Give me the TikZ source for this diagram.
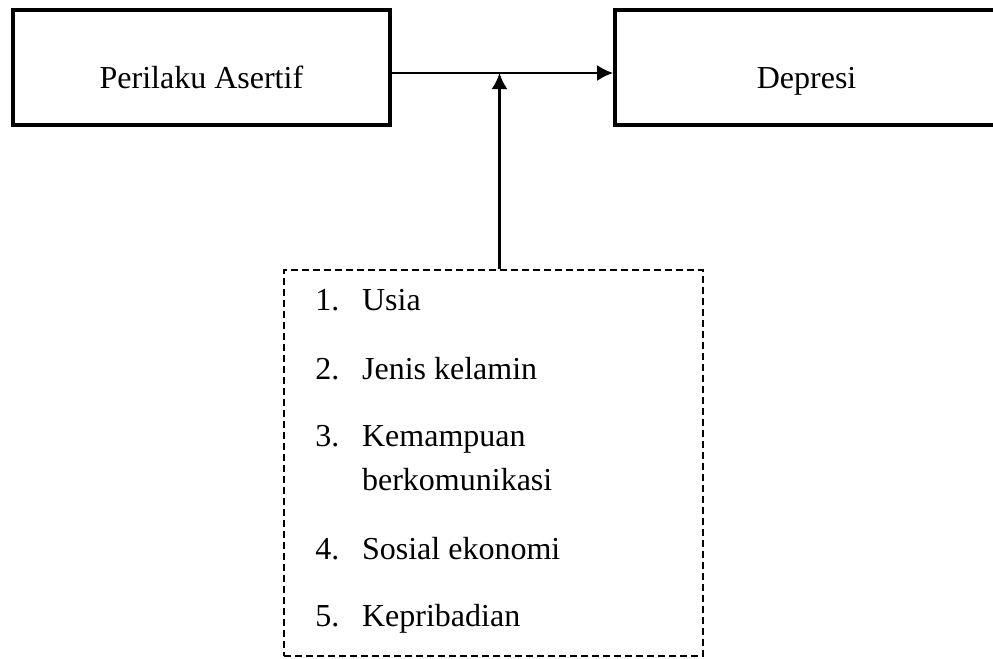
\documentclass[tikz,border=0pt]{standalone}
\usepackage{fontspec}
\setmainfont{Liberation Serif}
\usetikzlibrary{arrows.meta}

\begin{document}
\begin{tikzpicture}[x=0.5pt, y=-0.5pt, font=\fontsize{16}{19}\selectfont,
    box_style/.style={draw=black, line width=2pt, minimum height=57.5pt, text height=21pt, text depth=0pt},
    factor_style/.style={draw=black, dash pattern=on 3.5pt off 2pt, line width=1pt, minimum width=209.5pt, minimum height=193pt},
    item_style/.style={anchor=base west, inner sep=0pt},
    arrow_style/.style={draw=black, line width=1.3pt, -{Latex[length=8pt,width=8pt]}}]

    \useasboundingbox (0,0) rectangle (993,659);

    \node[box_style, minimum width=188.3pt] (perilaku) at (201.4,67) {Perilaku Asertif};
    \node[box_style, minimum width=191.4pt] (depresi) at (806.6,67) {Depresi};
    \node[factor_style] (factors) at (493.5,463) {};

    \node[item_style] (n1) at (315,310.7) {1.};
    \node[item_style] (f1) at (361.7,310.7) {Usia};
    \node[item_style] (n2) at (315,379) {2.};
    \node[item_style] (f2) at (361.7,379) {Jenis kelamin};
    \node[item_style] (n3) at (315,446.7) {3.};
    \node[item_style] (f3a) at (361.7,446.7) {Kemampuan};
    \node[item_style] (f3b) at (361.7,490.7) {berkomunikasi};
    \node[item_style] (n4) at (315,559) {4.};
    \node[item_style] (f4) at (361.7,559) {Sosial ekonomi};
    \node[item_style] (n5) at (315,626) {5.};
    \node[item_style] (f5) at (361.7,626) {Kepribadian};

    \coordinate (meet) at (499.5,73);

    \draw[arrow_style] ([yshift=-3pt]perilaku.east) -- ([yshift=-3pt]depresi.west);
    \draw[arrow_style] (factors.north -| meet) -- (meet);
\end{tikzpicture}
\end{document}
